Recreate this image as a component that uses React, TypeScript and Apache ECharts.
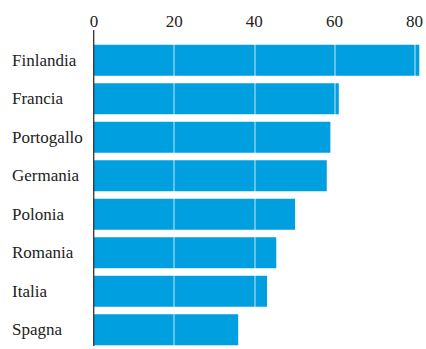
import React, { useEffect, useRef } from "react";
import * as echarts from "echarts";

const countries = ["Finlandia", "Francia", "Portogallo", "Germania", "Polonia", "Romania", "Italia", "Spagna"];
const values = [81.2, 61.1, 59.0, 58.1, 50.2, 45.5, 43.2, 36.0];
const ticks = [0, 20, 40, 60, 80];

const FONT = "'Liberation Serif', serif";

export default function App() {
  const ref = useRef<HTMLDivElement>(null);
  useEffect(() => {
    if (!ref.current) return;
    const chart = echarts.init(ref.current, null, { renderer: "svg" });
    chart.setOption({
      animation: false,
      grid: { left: 94, top: 41, width: 330, bottom: 0, containLabel: false },
      xAxis: {
        type: "value",
        position: "top",
        min: 0,
        max: 82,
        interval: 20,
        axisLine: { show: false },
        axisTick: { show: false },
        splitLine: { show: false },
        axisLabel: {
          margin: 11,
          showMaxLabel: false,
          fontFamily: FONT,
          fontSize: 17,
          color: "#222",
          formatter: (v: number) => (ticks.includes(v) ? String(v) : ""),
        },
      },
      yAxis: {
        type: "category",
        data: countries,
        inverse: true,
        axisLine: { show: false },
        axisTick: { show: false },
        axisLabel: {
          align: "left",
          margin: 82,
          fontFamily: FONT,
          fontSize: 17,
          color: "#222",
        },
      },
      series: [
        {
          type: "bar",
          data: values,
          barCategoryGap: "19%",
          itemStyle: { color: "#009FE0" },
          markLine: {
            silent: true,
            symbol: "none",
            label: { show: false },
            lineStyle: { color: "rgba(255,255,255,0.5)", type: "solid", width: 1.5 },
            data: ticks.filter((t) => t > 0).map((t) => ({ xAxis: t })),
          },
        },
      ],
      graphic: [
        {
          type: "line",
          z: 100,
          shape: { x1: 93.7, y1: 30, x2: 93.7, y2: 346 },
          style: { stroke: "#333", lineWidth: 1.3 },
        },
      ],
    });
    return () => chart.dispose();
  }, []);
  return <div ref={ref} style={{ position: "absolute", left: 0, top: 0, width: 426, height: 349 }} />;
}
